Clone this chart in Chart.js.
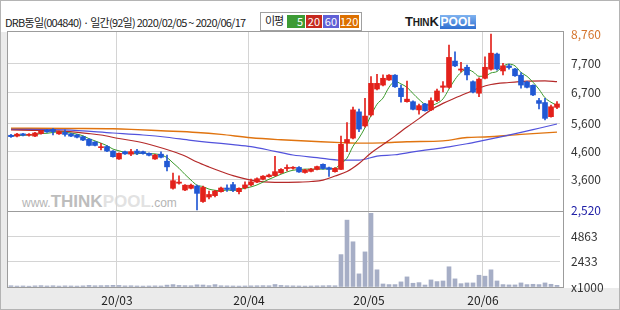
<!DOCTYPE html>
<html>
<head>
<meta charset="utf-8">
<script src="https://cdn.jsdelivr.net/npm/chart.js@4.4.1/dist/chart.umd.min.js"></script>
<style>
  body { margin: 0; background: #fff; }
  #wrap { position: relative; width: 620px; height: 310px; overflow: hidden; background: #fff;
          font-family: "Noto Sans CJK KR", sans-serif; }
  #wrap .edge { position: absolute; inset: 0; border: 1px solid #b4b4b4; box-sizing: border-box; pointer-events: none; }
  #bottomStrip { position: absolute; left: 0; top: 288px; width: 620px; height: 22px; background: #ebebeb; }
  #leftStrip { position: absolute; left: 0; top: 32px; width: 7px; height: 256px; background: #ebebeb; }
  #title { position: absolute; left: 5px; top: 14px; font-size: 11px; color: #222; letter-spacing: -0.75px; white-space: nowrap; }
  #legend { position: absolute; left: 260px; top: 12px; width: 100px; height: 17px; border: 1px solid #a0a0a0;
            background: #fff; font-size: 12px; line-height: 13px; }
  #legend .lbl { position: absolute; left: 4px; top: 1px; color: #222; font-size: 11px; letter-spacing: -1px; }
  #legend .box { position: absolute; top: 2px; height: 13px; color: #fff; text-align: right; padding-right: 2px;
                 box-sizing: border-box; font-size: 11px; }
  #logo { position: absolute; left: 405px; top: 14px; font-family: "Liberation Sans", sans-serif; font-weight: bold;
          white-space: nowrap; line-height: 14px; }
  #logo .think { color: #1c1c1c; font-size: 10px; letter-spacing: -0.2px; }
  #logo .think b { font-size: 13px; }
  #logo .pool { color: #fff; font-size: 12px; background: linear-gradient(#7fb3f0, #2f6fd0); padding: 0 1px; margin-left: 1px; }
  #wm { position: absolute; left: 22px; top: 192px; font-family: "Liberation Sans", sans-serif; white-space: nowrap; }
  #wm .s { font-size: 12px; color: #b4b4b4; }
  #wm .t { font-size: 17px; font-weight: bold; color: #bdbdbd; }
  #wm .p { font-size: 17px; font-weight: bold; color: #e2e2e2; }
  canvas { position: absolute; left: 0; top: 0; }
</style>
</head>
<body>
<div id="wrap">
  <div id="bottomStrip"></div>
  <div id="leftStrip"></div>
  <div id="title">DRB동일(004840) · 일간(92일) 2020/02/05 ~ 2020/06/17</div>
  <div id="legend">
    <span class="lbl">이평</span>
    <span class="box" style="left:26px;width:18px;background:#3d9b35">5</span>
    <span class="box" style="left:45px;width:16px;background:#c62a20">20</span>
    <span class="box" style="left:62px;width:16px;background:#6060d6">60</span>
    <span class="box" style="left:79px;width:19px;background:#dc7000">120</span>
  </div>
  <div id="logo"><span class="think"><b>T</b>HIN<b>K</b></span><span class="pool">POOL</span></div>
  <div id="wm"><span class="s">www.</span><span class="t">THINK</span><span class="p">POOL</span><span class="s">.com</span></div>
  <canvas id="chart" width="620" height="310"></canvas>
  <div class="edge"></div>
</div>
<script>
// trading days per month, 2020
const febDays = [5,6,7,10,11,12,13,14,17,18,19,20,21,24,25,26,27,28];
const marDays = [2,3,4,5,6,9,10,11,12,13,16,17,18,19,20,23,24,25,26,27,30,31];
const aprDays = [1,2,3,6,7,8,9,10,13,14,16,17,20,21,22,23,24,27,28,29];
const mayDays = [4,6,7,8,11,12,13,14,15,18,19,20,21,22,25,26,27,28,29];
const junDays = [1,2,3,4,5,8,9,10,11,12,15,16,17];
const monthTickLabels = ['20/03', '20/04', '20/05', '20/06'];

const opens = [5170,5140,5220,5170,5140,5230,5350,5380,5220,5270,5220,5180,5120,5030,4930,4730,4770,4610,4330,4590,
  4500,4610,4590,4530,4330,4500,4250,3290,3470,3230,3290,3370,2820,2980,3030,3170,3300,3420,3170,3310,
  3410,3510,3610,3700,3740,3840,3990,4000,4030,3850,3890,3960,4140,4020,3880,3960,4900,5070,6000,5500,
  5890,6810,6950,7130,7300,6840,6360,6360,6070,6280,6070,6400,6870,6870,7800,7480,7580,7070,6660,7190,
  7510,8050,7450,7630,7520,7300,7060,6940,6400,6330,5830,6160];
const highs = [5200,5240,5240,5230,5270,5340,5370,5410,5320,5360,5240,5200,5140,5040,4950,4880,4800,4630,4550,4610,
  4670,4670,4610,4550,4490,4580,4470,3830,3730,3420,3440,3400,3370,3190,3220,3330,3410,3500,3310,3520,
  3620,3660,3740,3790,4420,3990,4120,4060,4060,3960,4000,4080,4160,4040,4020,5140,5620,6170,6100,6480,
  7250,7330,7310,7320,7320,6950,7090,6390,6280,6300,6500,6810,7070,8370,8130,7760,7660,7100,7210,7950,
  8760,8080,7720,7690,7540,7390,7080,6960,6480,6480,6240,6360];
const lows = [5090,5110,5150,5140,5120,5210,5270,5180,5200,5140,5120,5080,4980,4790,4790,4650,4590,4390,4310,4490,
  4450,4480,4500,4440,4310,4370,3910,3260,3440,3210,3270,2520,2790,2910,2980,3150,3180,3170,3090,3270,
  3370,3490,3590,3680,3720,3820,3910,3970,3850,3830,3870,3940,3970,3710,3860,3950,4590,5040,5300,5460,
  5850,6780,6920,7110,6870,6340,6340,6070,5920,6020,6040,6360,6710,6840,7600,7420,7130,6670,6540,7170,
  7480,7480,7310,7510,7260,6840,6850,6570,6100,5710,5810,6110];
const closes = [5120,5210,5170,5190,5250,5310,5290,5300,5300,5200,5140,5100,5000,4810,4810,4750,4610,4410,4530,4510,
  4590,4530,4520,4460,4470,4390,4050,3560,3510,3400,3400,3110,3320,3070,3190,3300,3250,3220,3290,3410,
  3520,3630,3720,3760,3880,3960,4030,4030,3870,3940,3970,4060,3990,3960,4000,4850,5020,6070,5390,5850,
  7010,7010,7190,7300,6890,6540,6450,6090,6220,6040,6400,6740,6920,7930,7630,7520,7310,6700,7160,7580,
  8080,7520,7630,7570,7280,6950,6870,6600,6300,5770,6180,6280];
// volume, x1000 shares
const volumes = [120,90,100,80,110,130,100,120,90,110,100,90,110,150,120,130,140,160,150,110,
  120,100,90,100,110,100,180,230,150,130,120,210,190,130,230,120,110,100,90,100,
  110,120,130,120,240,150,120,110,100,90,100,110,120,130,120,3110,6420,4340,1260,3370,
  7070,1650,290,230,230,490,970,360,420,190,680,520,580,1940,780,320,390,390,1130,1040,
  1650,580,230,200,200,390,230,260,230,390,260,160];

// moving averages
const ma5 = [5150,5160,5170,5180,5190,5230,5240,5270,5290,5280,5250,5210,5150,5050,4970,4890,4800,4680,4620,4560,
  4530,4510,4540,4520,4510,4470,4380,4190,4000,3780,3580,3400,3350,3260,3220,3200,3230,3210,3250,3290,
  3340,3410,3510,3610,3700,3790,3870,3930,3950,3970,3970,3970,3970,3980,4000,4170,4360,4780,5070,5440,
  5870,6270,6490,6870,7080,6990,6870,6650,6440,6270,6240,6300,6460,6810,7150,7400,7500,7420,7260,7270,
  7380,7430,7620,7690,7630,7400,7260,7050,6800,6500,6340,6230];
const ma20Idx = [0,5,9,13,15,18,21,24,27,29,31,33,35,37,40,44,48,50,52,54,56,58,60,62,64,66,68,70,72,74,76,78,80,83,86,89,91];
const ma20Val = [5357,5340,5305,5230,5180,5055,4950,4790,4595,4435,4220,4045,3885,3740,3580,3500,3510,3530,3580,3725,3885,4170,4540,4840,5140,5460,5760,6070,6300,6490,6670,6845,6970,7040,7090,7100,7070];
const ma60Idx = [0,9,17,22,26,30,33,37,40,44,47,51,55,58,61,64,67,70,73,76,79,82,85,88,91];
const ma60Val = [5380,5360,5250,5180,5100,4990,4920,4840,4770,4600,4470,4380,4290,4290,4430,4480,4580,4670,4760,4870,5000,5130,5270,5420,5570];
const ma120Idx = [0,10,17,20,25,31,35,40,45,50,55,58,62,66,72,76,79,85,91];
const ma120Val = [5420,5410,5400,5380,5330,5270,5200,5080,5010,4960,4910,4890,4900,4940,4970,5090,5110,5200,5280];

const priceTickValues = [8760, 7700, 6700, 5600, 4600, 3600, 2520];
const priceTickLabels = ['8,760', '7,700', '6,700', '5,600', '4,600', '3,600', '2,520'];
const volTickValues = [0, 2433, 4863];
const volTickLabels = ['x1000', '2433', '4863'];

// build category labels
const dates = [];
const monthStart = {};
[['02', febDays], ['03', marDays], ['04', aprDays], ['05', mayDays], ['06', junDays]].forEach(([m, days], k) => {
  days.forEach((d, j) => {
    if (j === 0 && k > 0) monthStart[dates.length] = monthTickLabels[k - 1];
    dates.push('2020-' + m + '-' + String(d).padStart(2, '0'));
  });
});

const UP = '#e3211b', DOWN = '#2158d4';
const candleColors = closes.map((c, i) => (c >= opens[i] ? UP : DOWN));
const pts = (idx, val) => idx.map((i, k) => ({ x: dates[i], y: val[k] }));
const GRID = '#d4d4d4';
const tickFont = { family: '"Noto Sans CJK KR", sans-serif', size: 12 };

const frame = {
  id: 'frame',
  afterDraw(chart) {
    const { ctx, chartArea: a, scales } = chart;
    ctx.save();
    ctx.strokeStyle = '#9c9c9c';
    ctx.lineWidth = 1;
    ctx.strokeRect(7.5, a.top - 0.5, 556, a.bottom - a.top + 1);
    const y = Math.round(scales.yPrice.bottom) + 0.5;
    ctx.beginPath();
    ctx.moveTo(7.5, y);
    ctx.lineTo(563.5, y);
    ctx.stroke();
    ctx.restore();
  }
};

const lineDs = (label, data, color, width) => ({
  type: 'line', label, data, yAxisID: 'yPrice', borderColor: color, borderWidth: width,
  pointRadius: 0, cubicInterpolationMode: 'monotone', fill: false
});

new Chart(document.getElementById('chart'), {
  type: 'bar',
  data: {
    labels: dates,
    datasets: [
      { label: 'body', data: opens.map((o, i) => [o, closes[i]]), yAxisID: 'yPrice', backgroundColor: candleColors,
        barThickness: 5, grouped: false, minBarLength: 1 },
      { label: 'wick', data: lows.map((l, i) => [l, highs[i]]), yAxisID: 'yPrice', backgroundColor: candleColors,
        barThickness: 1, grouped: false },
      lineDs('MA5', ma5, '#3c9a2c', 1),
      lineDs('MA20', pts(ma20Idx, ma20Val), '#b52a2a', 1.2),
      lineDs('MA60', pts(ma60Idx, ma60Val), '#5252dc', 1.2),
      lineDs('MA120', pts(ma120Idx, ma120Val), '#e07410', 1.4),
      { label: 'volume', data: volumes, yAxisID: 'yVol', backgroundColor: '#a6aec6', barThickness: 4, grouped: false }
    ]
  },
  options: {
    responsive: false,
    animation: false,
    devicePixelRatio: 1,
    layout: { padding: { left: 8, top: 32, right: 0, bottom: 0 } },
    plugins: { legend: { display: false }, tooltip: { enabled: false } },
    scales: {
      x: {
        type: 'category',
        offset: true,
        grid: { offset: true, drawTicks: false, color: c => (monthStart[c.index] ? GRID : 'rgba(0,0,0,0)') },
        border: { display: false },
        ticks: { autoSkip: false, maxRotation: 0, padding: 6, labelOffset: -2, color: '#222', font: tickFont,
                 callback: (v, i) => monthStart[i] || '' },
        afterFit: s => { s.height = 23; }
      },
      yPrice: {
        position: 'right', stack: 'pv', stackWeight: 179, min: 2485, max: 8831,
        afterBuildTicks: s => { s.ticks = priceTickValues.map(v => ({ value: v })); },
        afterFit: s => { s.width = 60; },
        grid: { drawTicks: false, color: c => (c.tick && (c.tick.value === 8760 || c.tick.value === 2520) ? 'rgba(0,0,0,0)' : GRID) },
        border: { display: false },
        ticks: { autoSkip: false, padding: 11, font: tickFont, callback: (v, i) => priceTickLabels[i],
                 color: c => (c.tick.value === 8760 ? '#d4742c' : c.tick.value === 2520 ? '#1e1ea6' : '#333') }
      },
      yVol: {
        position: 'right', stack: 'pv', stackWeight: 76, min: 0, max: 7296,
        afterBuildTicks: s => { s.ticks = volTickValues.map(v => ({ value: v })); },
        afterFit: s => { s.width = 60; },
        grid: { drawTicks: false, color: c => (c.tick && c.tick.value === 0 ? 'rgba(0,0,0,0)' : GRID) },
        border: { display: false },
        ticks: { autoSkip: false, padding: 11, font: tickFont, color: '#333', callback: (v, i) => volTickLabels[i] }
      }
    }
  },
  plugins: [frame]
});
</script>
</body>
</html>
